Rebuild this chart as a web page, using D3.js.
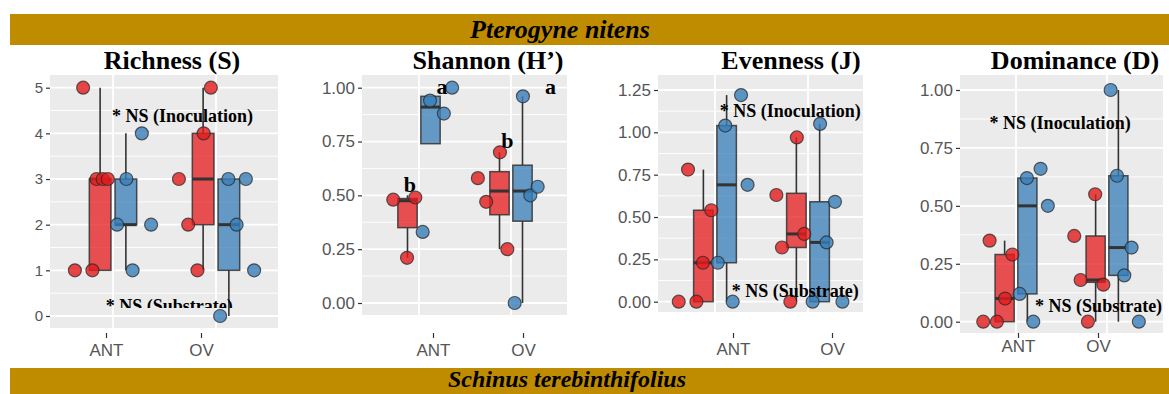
<!DOCTYPE html>
<html>
<head>
<meta charset="utf-8">
<script src="https://cdn.jsdelivr.net/npm/d3@7"></script>
<style>
  body { margin: 0; background: #fff; }
  svg { display: block; }
  .banner text { font-family: "Liberation Serif", "Times New Roman", serif; font-style: italic; font-weight: bold; fill: #000; }
  .title { font-family: "Liberation Serif", "Times New Roman", serif; font-weight: bold; font-size: 26px; fill: #000; }
  .note { font-family: "Liberation Serif", "Times New Roman", serif; font-weight: bold; font-size: 18px; fill: #000; }
  .letter { font-family: "Liberation Serif", "Times New Roman", serif; font-weight: bold; font-size: 22px; fill: #000; }
  .axis text { font-family: "Liberation Sans", Arial, sans-serif; fill: #555; }
  .axis line { stroke: #333; stroke-width: 1.2; }
  .axis path { display: none; }
</style>
</head>
<body>
<svg width="1169" height="394"></svg>
<script>
// Categories and series
const CATEGORIES = ["ANT", "OV"];
const SERIES = ["control", "inoculated"];
const SERIES_COLORS = ["#E41A1C", "#377EB8"];

// Points: [category, series index, value, jitter (category units)]
const richnessPoints = [
  ["ANT",0,5,-0.29],["ANT",0,1,-0.37],["ANT",0,1,-0.20],["ANT",0,3,-0.16],["ANT",0,3,-0.10],["ANT",0,3,-0.05],
  ["ANT",1,4,0.28],["ANT",1,3,0.13],["ANT",1,2,0.04],["ANT",1,2,0.37],["ANT",1,1,0.19],
  ["OV",0,5,-0.05],["OV",0,4,-0.12],["OV",0,3,-0.36],["OV",0,2,-0.27],["OV",0,1,-0.18],
  ["OV",1,3,0.12],["OV",1,3,0.29],["OV",1,2,0.20],["OV",1,1,0.37],["OV",1,0,0.04]
];
const shannonPoints = [
  ["ANT",0,0.48,-0.28],["ANT",0,0.49,-0.04],["ANT",0,0.21,-0.13],
  ["ANT",1,0.94,0.12],["ANT",1,0.88,0.27],["ANT",1,1.00,0.36],["ANT",1,0.33,0.04],
  ["OV",0,0.58,-0.36],["OV",0,0.47,-0.27],["OV",0,0.70,-0.12],["OV",0,0.25,-0.04],
  ["OV",1,0.96,0.13],["OV",1,0.50,0.21],["OV",1,0.54,0.29],["OV",1,0.00,0.04]
];
const evennessPoints = [
  ["ANT",0,0.78,-0.29],["ANT",0,0,-0.39],["ANT",0,0,-0.20],["ANT",0,0.23,-0.13],["ANT",0,0.54,-0.04],
  ["ANT",1,1.22,0.28],["ANT",1,1.04,0.11],["ANT",1,0.69,0.35],["ANT",1,0.23,0.03],["ANT",1,0,0.19],
  ["OV",0,0.97,-0.12],["OV",0,0.63,-0.34],["OV",0,0.40,-0.04],["OV",0,0.32,-0.28],["OV",0,0,-0.19],
  ["OV",1,1.05,0.13],["OV",1,0.59,0.29],["OV",1,0.35,0.20],["OV",1,0,0.05],["OV",1,0,0.37]
];
const dominancePoints = [
  ["ANT",0,0.35,-0.29],["ANT",0,0.29,-0.04],["ANT",0,0.10,-0.12],["ANT",0,0,-0.36],["ANT",0,0,-0.21],
  ["ANT",1,0.62,0.12],["ANT",1,0.66,0.27],["ANT",1,0.50,0.35],["ANT",1,0.12,0.04],["ANT",1,0,0.19],
  ["OV",0,0.55,-0.13],["OV",0,0.37,-0.36],["OV",0,0.18,-0.29],["OV",0,0.16,-0.04],["OV",0,0,-0.21],
  ["OV",1,1.0,0.04],["OV",1,0.63,0.11],["OV",1,0.32,0.27],["OV",1,0.20,0.19],["OV",1,0,0.35]
];

// Boxes: [category, series index, lower whisker, q1, median, q3, upper whisker]
const richnessBoxes = [["ANT",0,1,1,3,3,5],["ANT",1,1,2,2,3,4],["OV",0,1,2,3,4,5],["OV",1,0,1,2,3,3]];
const shannonBoxes = [["ANT",0,0.21,0.35,0.475,0.485,0.50],["ANT",1,0.74,0.74,0.91,0.96,0.96],["OV",0,0.25,0.41,0.52,0.61,0.70],["OV",1,0,0.38,0.52,0.64,0.96]];
const evennessBoxes = [["ANT",0,0,0,0.23,0.54,0.78],["ANT",1,0,0.23,0.69,1.04,1.22],["OV",0,0,0.32,0.40,0.64,0.97],["OV",1,0,0,0.35,0.59,1.05]];
const dominanceBoxes = [["ANT",0,0,0,0.10,0.29,0.35],["ANT",1,0,0.12,0.50,0.62,0.62],["OV",0,0,0.17,0.18,0.37,0.55],["OV",1,0,0.20,0.32,0.63,1.0]];

// Tick values
const richnessTicks = [0, 1, 2, 3, 4, 5];
const shannonTicks = [0, 0.25, 0.5, 0.75, 1];
const evennessTicks = [0, 0.25, 0.5, 0.75, 1, 1.25];
const dominanceTicks = [0, 0.25, 0.5, 0.75, 1];

// Annotations: [text, category index position, value, kind]
const richnessNotes = [["* NS (Inoculation)", -0.01, 4.25, "note"], ["* NS (Substrate)", -0.07, 0.09, "note"]];
const shannonNotes = [["b", -0.10, 0.515, "letter"], ["a", 0.25, 0.97, "letter"], ["b", 0.96, 0.72, "letter"], ["a", 1.43, 0.97, "letter"]];
const evennessNotes = [["* NS (Inoculation)", 0.05, 1.09, "note"], ["* NS (Substrate)", 0.18, 0.03, "note"]];
const dominanceNotes = [["* NS (Inoculation)", -0.29, 0.83, "note"], ["* NS (Substrate)", 0.21, 0.04, "note"]];

const BANNERS = ["Pterogyne nitens", "Schinus terebinthifolius"];

// Layout of each panel (pixels)
const PANELS = [
  { title: "Richness (S)", titleX: 172, points: richnessPoints, boxes: richnessBoxes, ticks: richnessTicks, notes: richnessNotes,
    fmt: d3.format("d"), bg: [50, 278, 75, 328], centers: [113, 216], yRange: [316, 87.7], labels: [106, 201], pad: 6, tickFont: 15, clip: 308 },
  { title: "Shannon (H\u2019)", titleX: 488, points: shannonPoints, boxes: shannonBoxes, ticks: shannonTicks, notes: shannonNotes,
    fmt: d3.format(".2f"), bg: [362, 567, 75, 315], centers: [419, 511], yRange: [303, 87.7], labels: [433, 523], pad: 6, tickFont: 17 },
  { title: "Evenness (J)", titleX: 791, points: evennessPoints, boxes: evennessBoxes, ticks: evennessTicks, notes: evennessNotes,
    fmt: d3.format(".2f"), bg: [658, 863, 75, 312], centers: [715, 808], yRange: [301.7, 90], labels: [733, 832], pad: 5, tickFont: 17 },
  { title: "Dominance (D)", titleX: 1075, points: dominancePoints, boxes: dominanceBoxes, ticks: dominanceTicks, notes: dominanceNotes,
    fmt: d3.format(".2f"), bg: [960, 1163, 75, 333], centers: [1016, 1107], yRange: [321.7, 90], labels: [1018, 1098], pad: 2, tickFont: 17 }
];

const DODGE = [-0.125, 0.125], BOX_W = 0.21, R = 6.5;
const svg = d3.select("svg");

// Gold species banners
const banners = svg.append("g").attr("class", "banner");
banners.append("rect").attr("x", 10).attr("y", 14).attr("width", 1159).attr("height", 31).attr("fill", "#BF8C00");
banners.append("text").attr("x", 560).attr("y", 38).attr("text-anchor", "middle").style("font-size", "26px").text(BANNERS[0]);
banners.append("rect").attr("x", 10).attr("y", 368).attr("width", 1159).attr("height", 30).attr("fill", "#BF8C00");
banners.append("text").attr("x", 567).attr("y", 387).attr("text-anchor", "middle").style("font-size", "24px").text(BANNERS[1]);

PANELS.forEach(function(p, k) {
  const g = svg.append("g");
  const x = d3.scaleLinear().domain([0, 1]).range(p.centers);
  const y = d3.scaleLinear().domain([0, p.ticks[p.ticks.length - 1]]).range(p.yRange);
  const xAxisScale = d3.scalePoint().domain(CATEGORIES).range(p.labels);
  const [left, right, top, bottom] = p.bg;

  // Panel background and grid
  g.append("rect").attr("x", left).attr("y", top).attr("width", right - left).attr("height", bottom - top).attr("fill", "#EBEBEB");
  const minor = d3.pairs(p.ticks).map(([a, b]) => (a + b) / 2);
  g.selectAll(".minor").data(minor).enter().append("line")
    .attr("x1", left).attr("x2", right).attr("y1", y).attr("y2", y)
    .attr("stroke", "#fff").attr("stroke-width", 0.9);
  g.selectAll(".major").data(p.ticks).enter().append("line")
    .attr("x1", left).attr("x2", right).attr("y1", y).attr("y2", y)
    .attr("stroke", "#fff").attr("stroke-width", 1.8);
  g.selectAll(".vmajor").data(CATEGORIES).enter().append("line")
    .attr("x1", (d, i) => x(i)).attr("x2", (d, i) => x(i)).attr("y1", top).attr("y2", bottom)
    .attr("stroke", "#fff").attr("stroke-width", 1.8);

  // Axes
  g.append("g").attr("class", "axis").attr("transform", `translate(${left},0)`)
    .call(d3.axisLeft(y).tickValues(p.ticks).tickFormat(p.fmt).tickSize(4).tickPadding(3))
    .selectAll("text").style("font-size", p.tickFont + "px");
  g.append("g").attr("class", "axis").attr("transform", "translate(0,333)")
    .call(d3.axisBottom(xAxisScale).tickSize(5).tickPadding(p.pad))
    .selectAll("text").style("font-size", "17px");

  // Boxes
  const boxes = g.selectAll(".box").data(p.boxes).enter().append("g");
  const cx = d => x(CATEGORIES.indexOf(d[0]) + DODGE[d[1]]);
  const hw = (x(1) - x(0)) * BOX_W / 2;
  boxes.append("line")
    .attr("x1", cx).attr("x2", cx).attr("y1", d => y(d[2])).attr("y2", d => y(d[3]))
    .attr("stroke", "#333").attr("stroke-width", 1.6);
  boxes.append("line")
    .attr("x1", cx).attr("x2", cx).attr("y1", d => y(d[5])).attr("y2", d => y(d[6]))
    .attr("stroke", "#333").attr("stroke-width", 1.6);
  boxes.append("rect")
    .attr("x", d => cx(d) - hw).attr("width", 2 * hw)
    .attr("y", d => y(d[5])).attr("height", d => Math.max(0.5, y(d[3]) - y(d[5])))
    .attr("fill", d => SERIES_COLORS[d[1]]).attr("fill-opacity", 0.75)
    .attr("stroke", "#333").attr("stroke-opacity", 0.85).attr("stroke-width", 1.5);
  boxes.append("line")
    .attr("x1", d => cx(d) - hw).attr("x2", d => cx(d) + hw).attr("y1", d => y(d[4])).attr("y2", d => y(d[4]))
    .attr("stroke", "#333").attr("stroke-width", 3);

  // Jittered points
  g.selectAll(".pt").data(p.points).enter().append("circle")
    .attr("cx", d => x(CATEGORIES.indexOf(d[0]) + d[3]))
    .attr("cy", d => y(d[2]))
    .attr("r", R)
    .attr("fill", d => SERIES_COLORS[d[1]]).attr("fill-opacity", 0.8)
    .attr("stroke", "#2b2b2b").attr("stroke-opacity", 0.75).attr("stroke-width", 1.2);

  // Annotations
  if (p.clip) {
    svg.append("clipPath").attr("id", "clip" + k)
      .append("rect").attr("x", 0).attr("y", 0).attr("width", 1169).attr("height", p.clip);
  }
  g.selectAll(".ann").data(p.notes).enter().append("text")
    .attr("class", d => d[3])
    .attr("x", d => x(d[1])).attr("y", d => y(d[2]))
    .attr("text-anchor", d => d[3] === "letter" ? "middle" : "start")
    .attr("clip-path", p.clip ? `url(#clip${k})` : null)
    .text(d => d[0]);

  // Title
  g.append("text").attr("class", "title").attr("x", p.titleX).attr("y", 69)
    .attr("text-anchor", "middle").text(p.title);
});
</script>
</body>
</html>
